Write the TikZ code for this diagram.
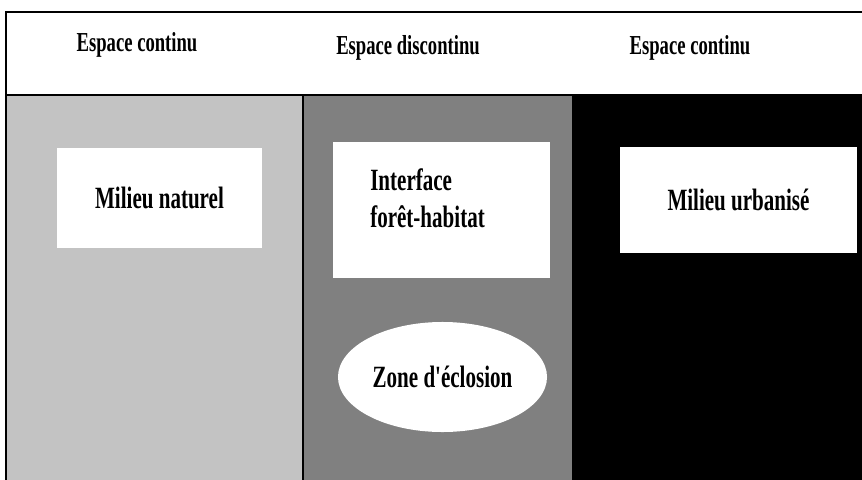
\documentclass[tikz,border=0pt]{standalone}
\usepackage{fontspec}
\newfontfamily\condfont[FakeStretch=0.68]{Liberation Serif}
\usetikzlibrary{shapes.geometric}

\definecolor{naturegray}{RGB}{195,195,195}
\definecolor{interfacegray}{RGB}{128,128,128}

\begin{document}
\begin{tikzpicture}[
  x=0.025cm,
  y=-0.025cm,
  zonebox/.style={
  	fill=white,
  	inner sep=0pt,
  	font=\condfont\bfseries\fontsize{22}{26}\selectfont
  },
  heading/.style={
  	font=\condfont\bfseries\fontsize{19.5}{23}\selectfont
  },
  frame/.style={
  	line width=2pt
  }
  ]
  \useasboundingbox (0,0) rectangle (862,480);
  
  % bandes de fond
  \fill[naturegray] (6,95) rectangle (303,480);
  \fill[interfacegray] (303,95) rectangle (572,480);
  \fill[black] (572,95) rectangle (862,480);
  
  \draw[frame] (862,12) -- (6,12) -- (6,480);
  \draw[frame] (6,95) -- (862,95);
  \draw[line width=1.5pt] (303,95) -- (303,480);
  
  \node[heading] (hleft) at (137,45) {Espace continu};
  \node[heading] (hmid) at (408,48) {Espace discontinu};
  \node[heading] (hright) at (690,48) {Espace continu};
  
  \node[zonebox,minimum width=5.125cm,minimum height=2.5cm] (naturel) at (159.5,198) {Milieu naturel};
  \node[zonebox,minimum width=5.425cm,minimum height=3.4cm] (interface) at (441.5,210) {};
  \node[zonebox,anchor=west,align=left] (interfacetxt) at (370,198) {Interface\\forêt-habitat};
  \node[zonebox,ellipse,minimum width=5.225cm,minimum height=2.75cm] (eclosion) at (442.5,377) {Zone d'éclosion};
  \node[zonebox,minimum width=5.925cm,minimum height=2.65cm] (urbanise) at (738.5,200) {Milieu urbanisé};
\end{tikzpicture}
\end{document}
